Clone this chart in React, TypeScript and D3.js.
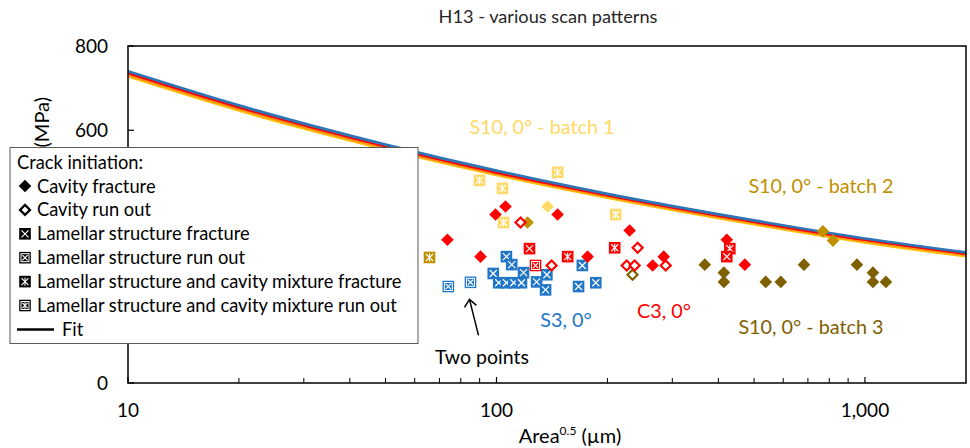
import React from 'react';
import * as d3 from 'd3';

const W = 970;
const H = 448;
const PLOT = { left: 128, right: 966, top: 46, bottom: 383 };

const chartTitle = 'H13 - various scan patterns';
const xTickValues = [10, 100, 1000];
const xTickLabels = ['10', '100', '1,000'];
const xMinorTicks = [20, 30, 40, 50, 60, 70, 80, 90, 200, 300, 400, 500, 600, 700, 800, 900];
const yTickValues = [0, 200, 400, 600, 800];
// labels 200 and 400 are hidden behind the legend in the reference
const yTickLabelsShown = [0, 600, 800];
const xDomain = [10, 1880];
const yDomain = [0, 800];

type MarkerType = 'CF' | 'CR' | 'LF' | 'LR' | 'MF' | 'MR';
type Pt = [number, number, MarkerType];

// S3, 0° (blue)
const s3Points: Pt[] = [
  [74, 229, 'LR'], [85, 239, 'LR'], [98, 260, 'LF'], [101.4, 238, 'LF'], [106.4, 300, 'LF'],
  [106.4, 238, 'LF'], [110, 281, 'LF'], [111.4, 238, 'LF'], [116.9, 238, 'LF'], [118.4, 262, 'LF'],
  [128.5, 240, 'LF'], [137, 257, 'LF'], [135.9, 221, 'LF'], [171, 279, 'LF'], [167, 229, 'LF'],
  [186, 238, 'LF'],
];
// C3, 0° (red)
const c3Points: Pt[] = [
  [73.6, 340, 'CF'], [90.5, 300, 'CF'], [99.4, 400, 'CF'], [105.8, 419, 'CF'], [146.5, 400, 'CF'],
  [176.7, 300, 'CF'], [229.8, 362, 'CF'], [265.4, 279, 'CF'], [284.3, 300, 'CF'], [421.7, 340, 'CF'],
  [472, 281, 'CF'],
  [116.2, 381, 'CR'], [141.1, 279, 'CR'], [225.6, 279, 'CR'], [237.1, 279, 'CR'], [241.6, 321, 'CR'],
  [287.9, 279, 'CR'],
  [122.9, 319, 'LF'], [127.6, 279, 'LR'], [156, 300, 'MF'], [209.3, 321, 'MF'], [429.7, 319, 'MF'],
  [421.7, 300, 'LF'],
];
// S10, 0° - batch 1 (light yellow)
const batch1Points: Pt[] = [
  [89.9, 481, 'MF'], [103.8, 462, 'MF'], [104.5, 381, 'MF'], [146.5, 500, 'MF'], [210.6, 400, 'MF'],
  [137.6, 419, 'CF'],
];
// S10, 0° - batch 2 (gold)
const batch2Points: Pt[] = [
  [65.8, 298, 'MF'], [121.4, 381, 'CF'], [769, 360, 'CF'], [819, 338, 'CF'],
];
// S10, 0° - batch 3 (olive)
const batch3Points: Pt[] = [
  [367.5, 281, 'CF'], [414, 262, 'CF'], [414, 240, 'CF'], [538, 240, 'CF'], [591, 240, 'CF'],
  [683, 281, 'CF'], [951, 281, 'CF'], [1051, 262, 'CF'], [1051, 240, 'CF'], [1140, 240, 'CF'],
  [234, 257, 'CR'],
];

// Fit curves
const fitX = [10, 20, 50, 100, 200, 500, 1000, 1880];
const fitBlue = [740, 659, 566, 504, 449, 386, 343, 310];
const fitRed = [736, 655, 562, 500, 446, 383, 340, 307];
const fitOrange = [732, 651, 558, 497, 443, 380, 337, 304];
const fitYellow = [728, 647, 555, 494, 440, 377, 334, 301];

const COL_BLUE = '#2176C7';
const COL_RED = '#FF0000';
const COL_B1 = '#FFD966';
const COL_B2 = '#BF9000';
const COL_B3 = '#7F6000';

const FONT = 'Lato, "Open Sans", sans-serif';

function Marker({ t, color, x, y }: { t: MarkerType; color: string; x: number; y: number }) {
  const h = 5.8;
  if (t === 'CF') {
    return <path d={`M${x},${y - 6.3}L${x + 6.3},${y}L${x},${y + 6.3}L${x - 6.3},${y}Z`} fill={color} />;
  }
  if (t === 'CR') {
    return (
      <path d={`M${x},${y - 5}L${x + 5},${y}L${x},${y + 5}L${x - 5},${y}Z`} fill="#fff" stroke={color} strokeWidth={2.2} />
    );
  }
  const runOut = t === 'LR' || t === 'MR';
  const mix = t === 'MF' || t === 'MR';
  const k = runOut ? 2.6 : 3.5;
  return (
    <g>
      <rect x={x - h} y={y - h} width={2 * h} height={2 * h} fill={color} />
      {runOut && <rect x={x - 4} y={y - 4} width={8} height={8} fill="none" stroke="#fff" strokeWidth={1} />}
      <path d={`M${x - k},${y - k}L${x + k},${y + k}M${x - k},${y + k}L${x + k},${y - k}`} stroke="#fff" strokeWidth={1.2} />
      {mix && <path d={`M${x},${y - k - 0.6}L${x},${y + k + 0.6}`} stroke="#fff" strokeWidth={1.1} />}
    </g>
  );
}

export default function App() {
  const x = d3.scaleLog().domain(xDomain).range([PLOT.left, PLOT.right]);
  const y = d3.scaleLinear().domain(yDomain).range([PLOT.bottom, PLOT.top]);

  const line = d3
    .line<[number, number]>()
    .x((d) => x(d[0]))
    .y((d) => y(d[1]))
    .curve(d3.curveMonotoneX);

  const fits: { vals: number[]; color: string }[] = [
    { vals: fitYellow, color: '#FFC000' },
    { vals: fitOrange, color: '#FF8C1A' },
    { vals: fitRed, color: '#FF0000' },
    { vals: fitBlue, color: '#2E75B6' },
  ];

  const groups: { pts: Pt[]; color: string }[] = [
    { pts: batch1Points, color: COL_B1 },
    { pts: batch2Points, color: COL_B2 },
    { pts: batch3Points, color: COL_B3 },
    { pts: s3Points, color: COL_BLUE },
    { pts: c3Points, color: COL_RED },
  ];

  const legendItems: { label: string; t: MarkerType | 'FIT' }[] = [
    { label: 'Cavity fracture', t: 'CF' },
    { label: 'Cavity run out', t: 'CR' },
    { label: 'Lamellar structure fracture', t: 'LF' },
    { label: 'Lamellar structure run out', t: 'LR' },
    { label: 'Lamellar structure and cavity mixture fracture', t: 'MF' },
    { label: 'Lamellar structure and cavity mixture run out', t: 'MR' },
    { label: 'Fit', t: 'FIT' },
  ];

  // arrow to the "Two points" marker
  const ax = x(85) - 1;
  const ay = y(239) + 17;
  const bx = ax + 9;
  const by = ay + 36;

  return (
    <svg width={W} height={H} style={{ position: 'absolute', left: 0, top: 0, fontFamily: FONT }}>
      <rect width={W} height={H} fill="#fff" />
      <text x={548} y={23} textAnchor="middle" fontSize={18.2} fill="#262626">{chartTitle}</text>

      {/* fit lines */}
      {fits.map((f, i) => (
        <path key={i} d={line(fitX.map((v, j) => [v, f.vals[j]] as [number, number])) || ''} fill="none" stroke={f.color} strokeWidth={2.7} />
      ))}

      {/* plot frame */}
      <rect x={PLOT.left} y={PLOT.top} width={PLOT.right - PLOT.left} height={PLOT.bottom - PLOT.top} fill="none" stroke="#000" strokeWidth={1.5} />

      {/* y ticks */}
      {yTickValues.map((v) => (
        <line key={v} x1={PLOT.left} x2={PLOT.left + 6} y1={y(v)} y2={y(v)} stroke="#000" strokeWidth={1.2} />
      ))}
      {yTickLabelsShown.map((v) => (
        <text key={v} x={108} y={y(v) + 7} textAnchor="end" fontSize={19} fill="#000">{v}</text>
      ))}
      {/* x ticks */}
      {xTickValues.map((v, i) => (
        <g key={v}>
          <line x1={x(v)} x2={x(v)} y1={PLOT.bottom} y2={PLOT.bottom - 6} stroke="#000" strokeWidth={1.2} />
          <text x={x(v)} y={417} textAnchor="middle" fontSize={19} fill="#000">{xTickLabels[i]}</text>
        </g>
      ))}
      {xMinorTicks.map((v) => (
        <line key={v} x1={x(v)} x2={x(v)} y1={PLOT.bottom} y2={PLOT.bottom - 5} stroke="#000" strokeWidth={1} />
      ))}

      <text x={570} y={443} textAnchor="middle" fontSize={20} fill="#000">
        Area<tspan fontSize={12} dy={-8}>0.5</tspan><tspan dy={8}> (µm)</tspan>
      </text>
      <text transform="translate(49,97) rotate(-90)" textAnchor="end" fontSize={20} fill="#000">(MPa)</text>

      {/* data points */}
      {groups.map((g, gi) => (
        <g key={gi}>
          {g.pts.map((p, i) => (
            <Marker key={i} t={p[2]} color={g.color} x={x(p[0])} y={y(p[1])} />
          ))}
        </g>
      ))}

      {/* annotations */}
      <text x={542} y={134} textAnchor="middle" fontSize={19.8} fill={COL_B1}>S10, 0° - batch 1</text>
      <text x={821} y={193} textAnchor="middle" fontSize={19.8} fill={COL_B2}>S10, 0° - batch 2</text>
      <text x={566} y={327} textAnchor="middle" fontSize={19.8} fill={COL_BLUE}>S3, 0°</text>
      <text x={664} y={318} textAnchor="middle" fontSize={19.8} fill={COL_RED}>C3, 0°</text>
      <text x={811} y={334} textAnchor="middle" fontSize={19.8} fill={COL_B3}>S10, 0° - batch 3</text>
      <text x={482} y={364} textAnchor="middle" fontSize={19.5} fill="#000">Two points</text>
      <path d={`M${bx},${by}L${ax},${ay}M${ax - 5},${ay + 8}L${ax},${ay}L${ax + 7},${ay + 6}`} fill="none" stroke="#000" strokeWidth={1.5} />

      {/* legend */}
      <g>
        <rect x={10} y={147.5} width={408} height={196} fill="#fff" stroke="#595959" strokeWidth={1} />
        <text x={17} y={169} fontSize={18.3} fill="#000">Crack initiation:</text>
        {legendItems.map((it, i) => {
          const cy = 186 + i * 23.9;
          return (
            <g key={i}>
              {it.t === 'FIT' ? (
                <line x1={17} x2={54} y1={cy} y2={cy} stroke="#000" strokeWidth={2.5} />
              ) : (
                <Marker t={it.t} color="#000" x={25} y={cy} />
              )}
              <text x={it.t === 'FIT' ? 62 : 37} y={cy + 6.5} fontSize={18.3} fill="#000">{it.label}</text>
            </g>
          );
        })}
      </g>
    </svg>
  );
}
